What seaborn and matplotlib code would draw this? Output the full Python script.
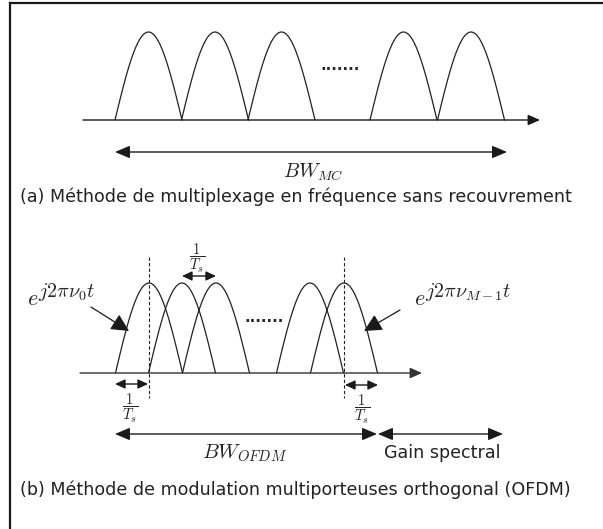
import numpy as np
import pandas as pd
import seaborn as sns
import matplotlib.pyplot as plt

# subcarrier centres (pixels) for each panel
top_centres = [148.5, 215, 281.5, 403.5, 471]
top_base, top_peak = 120, 32
bot_centres = [149, 182, 216, 310, 344]
bot_base, bot_peak = 373, 283
half_width = 33.5

caption_a = "(a) Méthode de multiplexage en fréquence sans recouvrement"
caption_b = "(b) Méthode de modulation multiporteuses orthogonal (OFDM)"

sns.set_theme(style='white')
plt.rcParams['font.family'] = ['DejaVu Sans']
plt.rcParams['mathtext.fontset'] = 'cm'

fig = plt.figure(figsize=(6.03, 5.29), dpi=100)
ax = fig.add_axes([0, 0, 1, 1])
ax.set_xlim(0, 603)
ax.set_ylim(529, 0)
ax.axis('off')


#   one arch per subcarrier
def humps(centres, base, peak, panel):
    rows = []
    u = np.linspace(-1, 1, 61)
    for i, c in enumerate(centres):
        for v in u:
            rows.append({'x': c + v * half_width,
                         'y': base - (base - peak) * np.cos(np.pi * v / 2),
                         'hump': f'{panel}{i}'})
    return pd.DataFrame(rows)


df = pd.concat([humps(top_centres, top_base, top_peak, 'a'),
                humps(bot_centres, bot_base, bot_peak, 'b')])
sns.lineplot(data=df, x='x', y='y', units='hump', estimator=None,
             color='#222222', lw=0.9, ax=ax, legend=False)


def arrow(x0, x1, y, style, hl, hw, ms=10, lw=1.0, color='k'):
    ax.annotate('', xy=(x1, y), xytext=(x0, y),
                arrowprops=dict(arrowstyle=f'{style},head_length={hl},head_width={hw}',
                                color=color, lw=lw, shrinkA=0, shrinkB=0,
                                mutation_scale=ms))


#   e^{...} drawn as two pieces so the exponent stays big like the original
def expo(x, y, sup):
    ax.text(x, y, r'$e$', ha='left', va='baseline', fontsize=16)
    ax.text(x + 11, y - 8, sup, ha='left', va='baseline', fontsize=14.5)


#   frequency axes
arrow(83, 540, top_base, '-|>', 0.72, 0.32)
arrow(80, 422, bot_base, '-|>', 0.72, 0.32, color='#333333')

#   panel (a)
ax.text(340, 66, '.......', ha='center', va='center', fontsize=11, fontweight='bold')
arrow(115, 507, 152, '<|-|>', 0.9, 0.38)
ax.text(313, 172, r'$BW_{MC}$', ha='center', va='center', fontsize=14.5)
ax.text(20, 197, caption_a, ha='left', va='center', fontsize=12.6, color='#222222')

#   panel (b)
for xd in [bot_centres[0], bot_centres[-1]]:
    ax.plot([xd, xd], [257, 398], color='#222222', lw=0.8, ls=(0, (3, 2)))
ax.text(264, 317, '.......', ha='center', va='center', fontsize=11, fontweight='bold')

frac = r'$\dfrac{1}{T_s}$'
arrow(182, 216, 276, '<|-|>', 0.6, 0.28)
ax.text(197, 258, frac, ha='center', va='center', fontsize=10.5)
arrow(115, 148, 384, '<|-|>', 0.6, 0.28)
ax.text(130, 408, frac, ha='center', va='center', fontsize=10.5)
arrow(345, 378, 385, '<|-|>', 0.6, 0.28)
ax.text(362, 409, frac, ha='center', va='center', fontsize=10.5)

expo(27, 305, r'$j2\pi\nu_0 t$')
ax.annotate('', xy=(129, 331), xytext=(91, 307),
            arrowprops=dict(arrowstyle='-|>,head_length=0.9,head_width=0.45',
                            color='k', lw=0.9, shrinkA=0, shrinkB=0, mutation_scale=12))
expo(414, 305, r'$j2\pi\nu_{M-1} t$')
ax.annotate('', xy=(364, 331), xytext=(400, 310),
            arrowprops=dict(arrowstyle='-|>,head_length=0.9,head_width=0.45',
                            color='k', lw=0.9, shrinkA=0, shrinkB=0, mutation_scale=12))

arrow(115, 377, 434, '<|-|>', 0.9, 0.38)
arrow(378, 503, 434, '<|-|>', 0.9, 0.38)
ax.text(245, 453, r'$BW_{OFDM}$', ha='center', va='center', fontsize=15)
ax.text(442, 453, 'Gain spectral', ha='center', va='center', fontsize=12.6, color='#222222')
ax.text(20, 490, caption_b, ha='left', va='center', fontsize=12.6, color='#222222')

#   frame (left and top only, cropped box)
ax.plot([10, 10], [529, 3], color='k', lw=1.6, solid_capstyle='projecting')
ax.plot([10, 603], [3, 3], color='k', lw=1.6, solid_capstyle='projecting')

fig.savefig('out.png', dpi=100)
